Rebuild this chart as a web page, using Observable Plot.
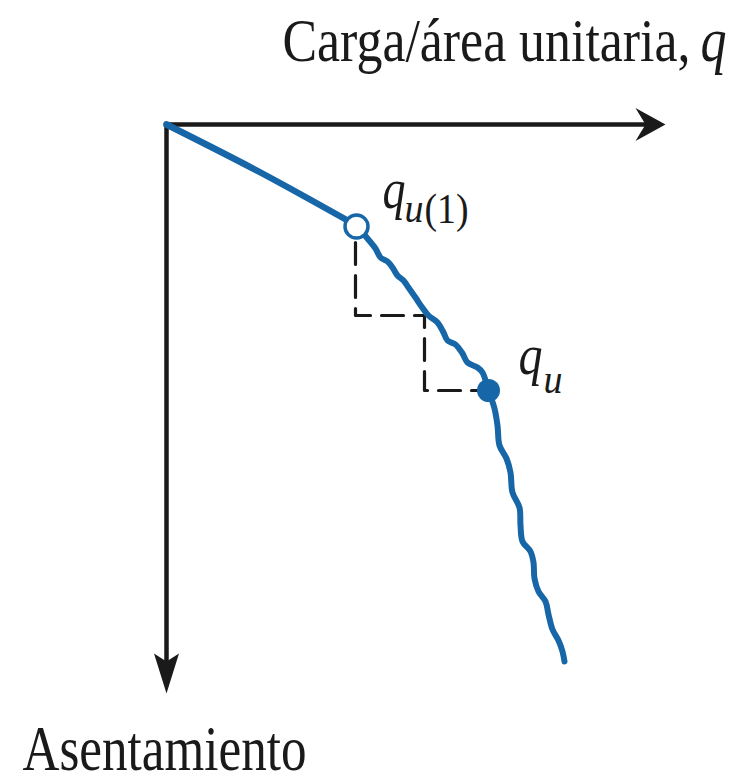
<!DOCTYPE html>
<html><head><meta charset="utf-8">
<script src="https://cdn.jsdelivr.net/npm/d3@7"></script>
<script src="https://cdn.jsdelivr.net/npm/@observablehq/plot@0.6"></script>
<style>html,body{margin:0;padding:0;background:#fff;} #chart svg{display:block}</style>
</head><body><div id="chart"></div>
<script>
// Tramo inicial (carga q, asentamiento s)
const cargaInicial = [0, 18.8, 38.0];
const asentInicial = [0, 9.6, 20.2];
// Tramo ondulado tras q_u(1)
const cargaOndulada = [38.0, 40.2, 41.8, 42.8, 44.2, 45.2, 46.2, 47.4, 48.4, 49.8, 51.0, 52.4, 54.2, 55.4, 56.2, 57.8, 59.2, 60.2, 62.2, 63.2, 64.4,
  65.6, 66.2, 66.6, 68.0, 68.8, 69.2, 70.6, 70.8, 71.2, 72.8, 73.4, 73.6, 74.4, 75.8, 76.4, 77.2, 78.4, 79.2, 79.6];
const asentOndulada = [20.2, 22.8, 24.8, 26.6, 27.4, 28.6, 30.2, 31.2, 32.6, 34.6, 36.4, 38.2, 39.6, 41.6, 43.2, 44.0, 45.8, 47.6, 48.6, 49.6, 53.2,
  56.8, 60.2, 64.2, 66.8, 69.6, 73.6, 76.6, 80.2, 83.4, 85.4, 87.6, 90.8, 93.4, 95.4, 98.0, 101.0, 103.2, 105.4, 107.4];
// Puntos característicos
const puntoQu1 = {q: 38.0, s: 20.4};
const puntoQu = {q: 64.4, s: 53.2};
// Escalón discontinuo
const escalonQ = [37.8, 37.8, 51.6, 51.6, 64.4];
const escalonS = [23.6, 38.2, 38.2, 53.2, 53.2];
// Ejes
const ejeQmax = 99.8;
const ejeSmax = 113.8;
// Textos
const tituloQ = "Carga/área unitaria,";
const tituloQvar = "q";
const tituloS = "Asentamiento";
const etiquetaQu1 = ["q", "u", "(1)"];
const etiquetaQu = ["q", "u"];
// Posiciones de los textos
const posTituloQ = {q: 23.2, s: -12.8};
const posTituloQvar = {q: 106.8, s: -12.8};
const posTituloS = {q: -28.8, s: 129.0};
const posQu1 = [{q: 43.2, s: 16.6}, {q: 47.6, s: 19.4}, {q: 51.6, s: 19.6}];
const posQu = [{q: 70.4, s: 49.8}, {q: 75.4, s: 53.6}];

const azul = "#1767a8";
const negro = "#1a1a1a";
const serif = "'Liberation Serif', 'DejaVu Serif', serif";

const tramo1 = cargaInicial.map((q, i) => ({q, s: asentInicial[i]}));
const tramo2 = cargaOndulada.map((q, i) => ({q, s: asentOndulada[i]}));
const escalon = escalonQ.map((q, i) => ({q, s: escalonS[i]}));

const flechaDerecha = {draw(ctx, size) { const r = Math.sqrt(size / Math.PI);
  ctx.moveTo(0, 0); ctx.lineTo(-3 * r, -1.65 * r); ctx.lineTo(-2 * r, 0); ctx.lineTo(-3 * r, 1.65 * r); ctx.closePath(); }};
const flechaAbajo = {draw(ctx, size) { const r = Math.sqrt(size / Math.PI);
  ctx.moveTo(0, 0); ctx.lineTo(-1.25 * r, -4 * r); ctx.lineTo(0, -3.2 * r); ctx.lineTo(1.25 * r, -4 * r); ctx.closePath(); }};

function texto(d, txt, opts) {
  return Plot.text([d], {x: "q", y: "s", text: () => txt, textAnchor: "start", lineAnchor: "bottom", fontFamily: serif, fill: negro, ...opts});
}

const chart = Plot.plot({
  width: 746, height: 781,
  marginLeft: 166, marginRight: 81, marginTop: 124, marginBottom: 88,
  x: {domain: [0, ejeQmax], axis: null},
  y: {domain: [0, ejeSmax], reverse: true, axis: null},
  style: {background: "#fff", overflow: "visible"},
  marks: [
    Plot.ruleY([{s: 0, q1: 0, q2: ejeQmax - 3}], {y: "s", x1: "q1", x2: "q2", stroke: negro, strokeWidth: 4.5, strokeLinecap: "square"}),
    Plot.ruleX([{q: 0, s1: 0, s2: ejeSmax - 4}], {x: "q", y1: "s1", y2: "s2", stroke: negro, strokeWidth: 4.5, strokeLinecap: "square"}),
    Plot.dot([{q: ejeQmax, s: 0}], {x: "q", y: "s", r: 10, symbol: flechaDerecha, fill: negro, stroke: "none"}),
    Plot.dot([{q: 0, s: ejeSmax}], {x: "q", y: "s", r: 10, symbol: flechaAbajo, fill: negro, stroke: "none"}),
    Plot.line(escalon, {x: "q", y: "s", stroke: negro, strokeWidth: 3.2, strokeDasharray: "22,11", curve: "linear"}),
    Plot.line(tramo1, {x: "q", y: "s", stroke: azul, strokeWidth: 6.5, curve: "catmull-rom", strokeLinecap: "round"}),
    Plot.line(tramo2, {x: "q", y: "s", stroke: azul, strokeWidth: 6, curve: "catmull-rom", strokeLinecap: "round", strokeLinejoin: "round"}),
    Plot.dot([puntoQu1], {x: "q", y: "s", r: 11.5, fill: "#fff", stroke: azul, strokeWidth: 3.5}),
    Plot.dot([puntoQu], {x: "q", y: "s", r: 11.5, fill: azul, stroke: "none"}),
    texto(posTituloQ, tituloQ, {fontSize: 62}),
    texto(posTituloQvar, tituloQvar, {fontSize: 64, fontStyle: "italic"}),
    texto(posTituloS, tituloS, {fontSize: 63}),
    texto(posQu1[0], etiquetaQu1[0], {fontSize: 56, fontStyle: "italic"}),
    texto(posQu1[1], etiquetaQu1[1], {fontSize: 42, fontStyle: "italic"}),
    texto(posQu1[2], etiquetaQu1[2], {fontSize: 42}),
    texto(posQu[0], etiquetaQu[0], {fontSize: 56, fontStyle: "italic"}),
    texto(posQu[1], etiquetaQu[1], {fontSize: 42, fontStyle: "italic"})
  ]
});

// Compresión horizontal de los textos (tipografía condensada del original)
const anchos = [408, 26, 284, 23, 19, 44, 24, 19];
chart.querySelectorAll("text").forEach((t, i) => {
  if (anchos[i]) { t.setAttribute("textLength", anchos[i]); t.setAttribute("lengthAdjust", "spacingAndGlyphs"); }
});
document.getElementById("chart").append(chart);
</script>
</body></html>
